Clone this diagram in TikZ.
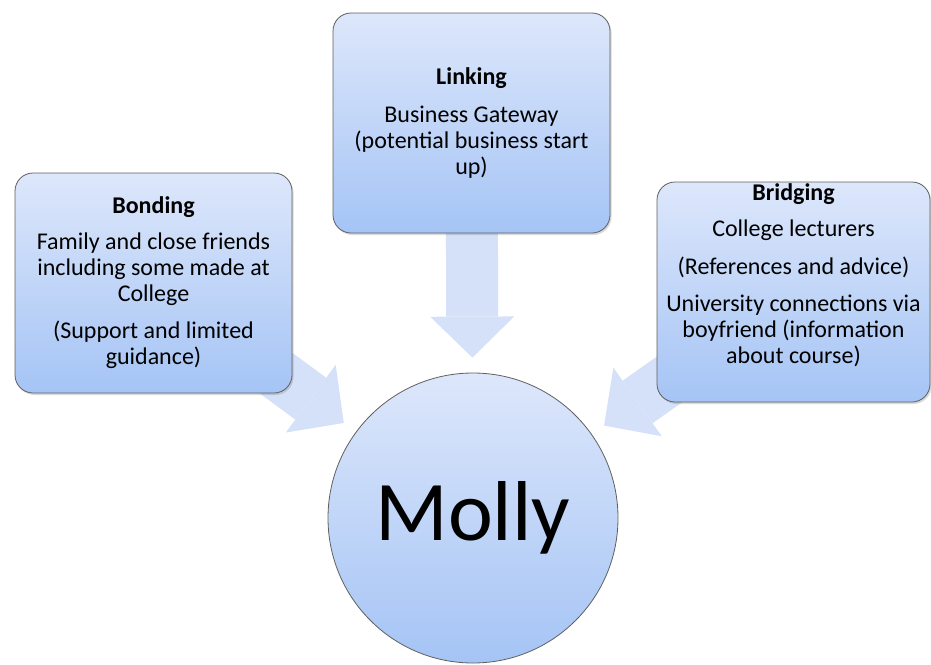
\documentclass[tikz,border=0pt]{standalone}
\usepackage{fontspec}
\setmainfont{Carlito}
\usetikzlibrary{positioning, arrows.meta, shadows, backgrounds}
\definecolor{boxtop}{RGB}{221,231,251}
\definecolor{boxbottom}{RGB}{165,196,245}
\definecolor{arrowblue}{RGB}{212,225,249}
\definecolor{rim}{RGB}{95,95,95}
\tikzset{
x=1pt, y=-1pt, % one unit is one pixel of the reference, y runs down
panel/.style={rectangle, rounded corners=18pt, draw=rim, line width=0.8pt,
  top color=boxtop, bottom color=boxbottom, minimum width=277pt, minimum height=220pt,
  drop shadow={opacity=0.3, shadow xshift=1.5pt, shadow yshift=-2pt}}, % the three tie boxes
paneltext/.style={align=center, font=\fontsize{24}{26}\selectfont}, % text inside a box
person/.style={circle, draw=rim, line width=0.8pt, top color=boxtop, bottom color=boxbottom,
  minimum size=290pt, inner sep=0pt, font=\fontsize{85}{90}\selectfont}, % the centre
feed/.style={draw=arrowblue, line width=52pt,
  -{Triangle[width=84pt, length=41pt, line width=0pt]}, shorten >=15pt}, % wide block arrows
}

\begin{document}
\begin{tikzpicture}
    \useasboundingbox (0,0) rectangle (931,664);

    \node[person] (MOLLY) at (473,518) {Molly};
    \node[panel] (BONDING) at (153.5,283) {};
    \node[panel] (LINKING) at (471.5,123) {};
    \node[panel, minimum width=273pt] (BRIDGING) at (793.5,292) {};

    \node[paneltext] (bondtxt) at (BONDING) {\textbf{Bonding}\\[10pt]
        Family and close friends\\ including some made at\\ College\\[11pt]
        (Support and limited\\ guidance)};
    \node[paneltext] (linktxt) at (LINKING) {\textbf{Linking}\\[12pt]
        Business Gateway\\ (potential business start\\ up)};
    \node[paneltext] (bridgetxt) at ([yshift=17pt]BRIDGING.center) {\textbf{Bridging}\\[10pt]
        College lecturers\\[12pt] (References and advice)\\[11pt]
        University connections via\\ boyfriend (information\\ about course)};

    \begin{pgfonlayer}{background}
      \draw[feed] (BONDING.center) -- (MOLLY);
      \draw[feed] (LINKING.center) -- (MOLLY);
      \draw[feed] (BRIDGING.center) -- (MOLLY);
    \end{pgfonlayer}
\end{tikzpicture}
\end{document}
